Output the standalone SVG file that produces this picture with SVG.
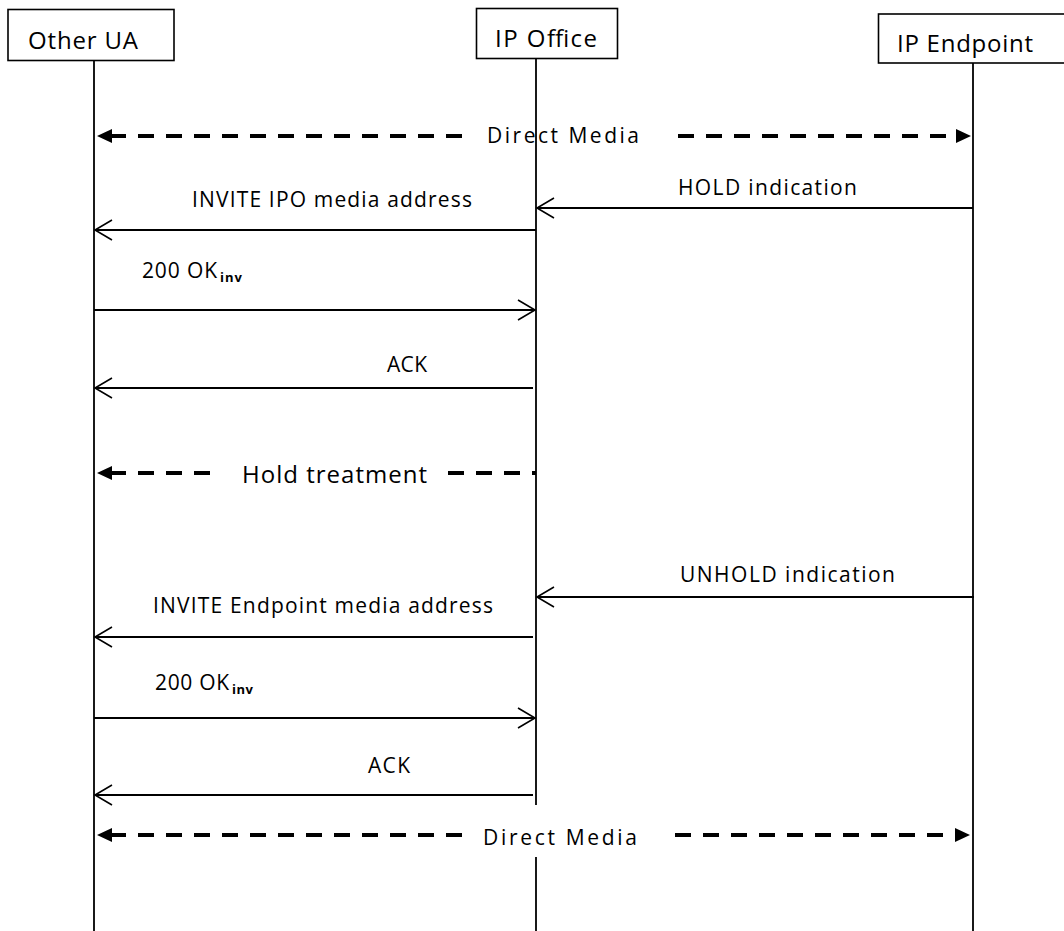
<svg xmlns="http://www.w3.org/2000/svg" width="1064" height="931" viewBox="0 0 1064 931">
  <style>
    .box { fill: #ffffff; stroke: #000000; stroke-width: 1.6; }
    .life { stroke: #000000; stroke-width: 1.8; fill: none; }
    .msg { stroke: #000000; stroke-width: 1.8; fill: none; marker-end: url(#open); }
    .media { stroke: #000000; stroke-width: 4; fill: none; stroke-dasharray: 16 12; }
    .hdr { font-family: "Open Sans", "DejaVu Sans", sans-serif; font-size: 24px; fill: #000000; }
    .lbl { font-family: "Open Sans", "DejaVu Sans", sans-serif; font-size: 21px; fill: #000000; }
    .big { font-family: "Open Sans", "DejaVu Sans", sans-serif; font-size: 24px; fill: #000000; }
    .sub { font-family: "Open Sans", "DejaVu Sans", sans-serif; font-size: 13px; font-weight: bold; fill: #000000; }
  </style>
  <defs>
    <marker id="open" markerUnits="userSpaceOnUse" markerWidth="20" markerHeight="24" refX="0" refY="0" orient="auto" overflow="visible">
      <path d="M-17,-10 L0,0 L-17,10" fill="none" stroke="#000000" stroke-width="1.6"/>
    </marker>
    <marker id="solid" markerUnits="userSpaceOnUse" markerWidth="16" markerHeight="16" refX="0" refY="0" orient="auto-start-reverse" overflow="visible">
      <path d="M-2,-7 L13,0 L-2,7 Z" fill="#000000"/>
    </marker>
  </defs>
  <rect width="1064" height="931" fill="#ffffff"/>

  <g id="node-other-ua">
    <rect class="box" x="8" y="9.5" width="166" height="51"/>
    <text class="hdr" x="28" y="49" textLength="110">Other UA</text>
    <line class="life" x1="94" y1="60.5" x2="94" y2="931"/>
  </g>

  <g id="node-ip-office">
    <rect class="box" x="476.5" y="8.5" width="141" height="50"/>
    <text class="hdr" x="495" y="47" textLength="102">IP Office</text>
    <line class="life" x1="536" y1="58.5" x2="536" y2="805"/>
    <line class="life" x1="536" y1="857" x2="536" y2="931"/>
  </g>

  <g id="node-ip-endpoint">
    <rect class="box" x="878.5" y="14" width="200" height="49"/>
    <text class="hdr" x="897" y="52" textLength="136">IP Endpoint</text>
    <line class="life" x1="973" y1="63" x2="973" y2="931"/>
  </g>

  <g id="connectors">
    <!-- Direct Media (top) -->
    <path class="media" d="M110,136 H470" marker-start="url(#solid)"/>
    <path class="media" d="M678,136 H958" marker-end="url(#solid)"/>
    <text class="lbl" x="487" y="143" textLength="152">Direct Media</text>

    <!-- HOLD indication -->
    <line class="msg" x1="973" y1="208" x2="537" y2="208"/>
    <text class="lbl" x="678" y="195" textLength="179">HOLD indication</text>

    <!-- INVITE IPO media address -->
    <line class="msg" x1="536" y1="230" x2="95" y2="230"/>
    <text class="lbl" x="192" y="207" textLength="280">INVITE IPO media address</text>

    <!-- 200 OK inv -->
    <line class="msg" x1="94" y1="310" x2="535" y2="310"/>
    <text class="lbl" x="142" y="278" textLength="75">200 OK</text>
    <text class="sub" x="220" y="282" textLength="22">inv</text>

    <!-- ACK -->
    <line class="msg" x1="533" y1="388" x2="95" y2="388"/>
    <text class="lbl" x="387" y="372" textLength="40">ACK</text>

    <!-- Hold treatment -->
    <path class="media" d="M110,473 H213" marker-start="url(#solid)"/>
    <path class="media" d="M448,473 H536"/>
    <text class="big" x="242" y="483" textLength="185">Hold treatment</text>

    <!-- UNHOLD indication -->
    <line class="msg" x1="974" y1="597" x2="537" y2="597"/>
    <text class="lbl" x="680" y="582" textLength="215">UNHOLD indication</text>

    <!-- INVITE Endpoint media address -->
    <line class="msg" x1="533" y1="637" x2="95" y2="637"/>
    <text class="lbl" x="153" y="613" textLength="340">INVITE Endpoint media address</text>

    <!-- 200 OK inv -->
    <line class="msg" x1="94" y1="718" x2="535" y2="718"/>
    <text class="lbl" x="155" y="690" textLength="74">200 OK</text>
    <text class="sub" x="232" y="694" textLength="21">inv</text>

    <!-- ACK -->
    <line class="msg" x1="533" y1="795" x2="95" y2="795"/>
    <text class="lbl" x="368" y="773" textLength="42">ACK</text>

    <!-- Direct Media (bottom) -->
    <path class="media" d="M110,835 H462" marker-start="url(#solid)"/>
    <path class="media" d="M675,835 H957" marker-end="url(#solid)"/>
    <text class="lbl" x="483" y="845" textLength="154">Direct Media</text>
  </g>
</svg>
